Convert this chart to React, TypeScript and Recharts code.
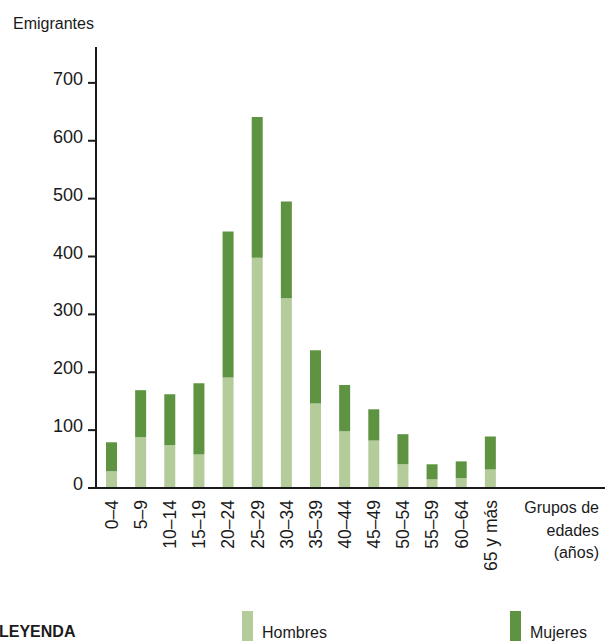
import { BarChart, Bar, XAxis, YAxis } from 'recharts'

const grupos = ['0–4', '5–9', '10–14', '15–19', '20–24', '25–29', '30–34', '35–39', '40–44', '45–49', '50–54', '55–59', '60–64', '65 y más']
const hombres = [29, 88, 74, 58, 191, 398, 328, 146, 98, 82, 41, 15, 17, 32]
const mujeres = [50, 81, 88, 123, 252, 243, 167, 92, 80, 54, 52, 26, 29, 57]
const yTicks = [0, 100, 200, 300, 400, 500, 600, 700]

const data = grupos.map((g, i) => ({ grupo: g, hombres: hombres[i], mujeres: mujeres[i] }))

const LIGHT = '#b3cc9a'
const DARK = '#5e9341'
const INK = '#1a1a1a'
const FONT = '"Liberation Sans", Arial, sans-serif'

function YTick({ x, y, payload }: any) {
  return (
    <text x={x} y={y} dy={2} textAnchor="end" fontSize={18} fill={INK} fontFamily={FONT}>
      {payload.value}
    </text>
  )
}

function XTick({ x, y, payload }: any) {
  return (
    <text
      x={x}
      y={y}
      dy="0.36em"
      textAnchor="end"
      transform={`rotate(-90, ${x}, ${y})`}
      fontSize={17.5}
      fill={INK}
      fontFamily={FONT}
    >
      {payload.value}
    </text>
  )
}

export default function App() {
  return (
    <div style={{ position: 'absolute', left: 0, top: 0, width: 605, height: 641, background: '#fff', fontFamily: FONT, color: INK, overflow: 'hidden' }}>
      <BarChart width={605} height={641} data={data} margin={{ top: 47, right: 0, left: 0, bottom: 0 }}>
        <XAxis
          dataKey="grupo"
          height={153}
          interval={0}
          tickLine={false}
          tickMargin={6}
          tick={<XTick />}
          padding={{ left: 1, right: 100 }}
          axisLine={{ stroke: INK, strokeWidth: 2 }}
        />
        <YAxis
          width={96}
          domain={[0, 762]}
          ticks={yTicks}
          tickSize={8}
          tickMargin={5}
          tick={<YTick />}
          tickLine={{ stroke: INK, strokeWidth: 2 }}
          axisLine={{ stroke: INK, strokeWidth: 2 }}
        />
        <Bar dataKey="hombres" stackId="a" fill={LIGHT} barSize={11} isAnimationActive={false} />
        <Bar dataKey="mujeres" stackId="a" fill={DARK} barSize={11} isAnimationActive={false} />
      </BarChart>

      <div style={{ position: 'absolute', left: 13, top: 15, fontSize: 16 }}>Emigrantes</div>

      <div style={{ position: 'absolute', right: 6, top: 497, fontSize: 16, lineHeight: '22.5px', textAlign: 'right' }}>
        Grupos de<br />edades<br />(años)
      </div>

      <div style={{ position: 'absolute', left: -1, top: 623, fontSize: 16, fontWeight: 'bold', fontFamily: '"Liberation Sans Narrow", ' + FONT }}>LEYENDA</div>
      <div style={{ position: 'absolute', left: 242, top: 611, width: 11, height: 30, background: LIGHT }} />
      <div style={{ position: 'absolute', left: 262, top: 624, fontSize: 16 }}>Hombres</div>
      <div style={{ position: 'absolute', left: 510, top: 611, width: 11, height: 30, background: DARK }} />
      <div style={{ position: 'absolute', left: 530, top: 624, fontSize: 16 }}>Mujeres</div>
    </div>
  )
}
